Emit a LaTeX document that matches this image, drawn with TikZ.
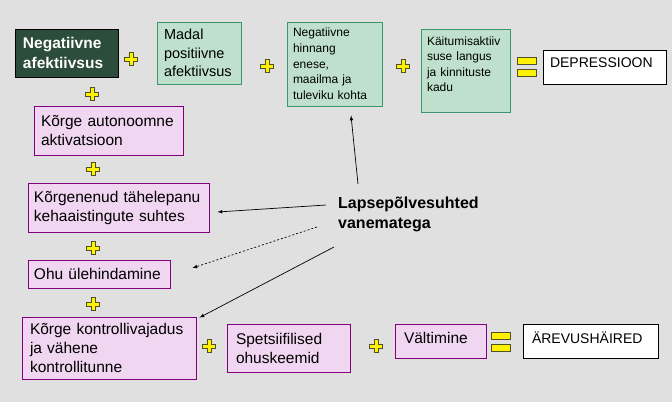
\documentclass[tikz,border=0pt]{standalone}
\usepackage{fontspec}
\setmainfont{Liberation Sans}
\usetikzlibrary{arrows,calc,positioning}
\definecolor{bg}{RGB}{224,224,224}
\definecolor{darkgreen}{RGB}{44,76,60}
\definecolor{lightgreen}{RGB}{192,224,206}
\definecolor{greenline}{RGB}{60,150,110}
\definecolor{pinkfill}{RGB}{240,214,240}
\definecolor{lilla}{RGB}{128,0,128}
\definecolor{plusline}{RGB}{80,80,40}

\begin{document}
\begin{tikzpicture}[x=1pt,y=-1pt]
\tikzset{box/.style={rectangle, align=left, inner ysep=0pt, line width=0.8pt}}
\tikzset{nodedark/.style={box, draw=black, fill=darkgreen, text=white, font=\bfseries\fontsize{15.5}{20}\selectfont}}
\tikzset{nodegreen/.style={box, draw=greenline, fill=lightgreen}}
\tikzset{nodepink/.style={box, draw=lilla, fill=pinkfill, font=\fontsize{15.5}{19}\selectfont}}
\tikzset{nodewhite/.style={box, draw=black, fill=white, font=\fontsize{14}{17}\selectfont}}
\tikzset{arr/.style={-latex, line width=0.7pt}}

\tikzset{pluss/.pic={\filldraw[fill=yellow, draw=plusline, line width=0.6pt]
    (-6.5,-2.2) -| (-2.2,-6.5) -| (2.2,-2.2) -| (6.5,2.2) -| (2.2,6.5)
    -| (-2.2,2.2) -| (-6.5,2.2) -- cycle;}}
\tikzset{vordub/.pic={\filldraw[fill=yellow, draw=plusline, line width=0.6pt]
    (-9.5,-9.5) rectangle (9.5,-2.5) (-9.5,2.5) rectangle (9.5,9.5);}}

\useasboundingbox (0,0) rectangle (672,402);
\fill[bg] (0,0) rectangle (672,402);

%% Depression
\node[nodedark, text width=87pt, inner xsep=8pt, minimum height=48pt] at (66.5,53) (d1) {Negatiivne\\afektiivsus};
\node[nodegreen, font=\fontsize{14.5}{18.5}\selectfont, text width=70pt, inner xsep=7pt, minimum height=62pt] at (199,53) (d2) {Madal\\positiivne\\afektiivsus};
\node[nodegreen, font=\fontsize{12}{15.7}\selectfont, text width=83pt, inner xsep=6pt, minimum height=84pt] at (334.5,64) (d3) {Negatiivne\\hinnang\\enese,\\maailma ja\\tuleviku kohta};
\node[nodegreen, font=\fontsize{12}{15.5}\selectfont, text width=77pt, inner xsep=6pt, minimum height=83pt, text height=16pt, text depth=67pt] at (465.5,70.5) (d4) {K\"aitumisaktiiv\\suse langus\\ja kinnituste\\kadu};
\node[nodewhite, text width=109pt, inner xsep=7pt, minimum height=34pt, text depth=8pt] at (604.5,67) (d5) {DEPRESSIOON};

\pic at (131,59) {pluss};
\pic at (267,66) {pluss};
\pic at (403,66) {pluss};
\pic at (526.5,66.5) {vordub};

%% Anxiety
\node[nodepink, text width=135pt, inner xsep=7pt, minimum height=49pt] at (108.5,130.5) (a1) {K\~orge autonoomne\\aktivatsioon};
\node[nodepink, text width=169pt, inner xsep=6pt, minimum height=49pt] at (118.5,207.5) (a2) {K\~orgenenud t\"ahelepanu\\kehaaistingute suhtes};
\node[nodepink, text width=130pt, inner xsep=6pt, minimum height=28pt] at (99,274) (a3) {Ohu \"ulehindamine};
\node[nodepink, text width=158pt, inner xsep=8pt, minimum height=62pt] at (109,348) (a4) {K\~orge kontrollivajadus\\ja v\"ahene\\kontrollitunne};
\node[nodepink, text width=105pt, inner xsep=9pt, minimum height=48pt] at (288.5,348) (a5) {Spetsiifilised\\ohuskeemid};
\node[nodepink, text width=73pt, inner xsep=9pt, minimum height=34pt, text depth=6pt] at (440.5,341) (a6) {V\"altimine};
\node[nodewhite, text width=117pt, inner xsep=9pt, minimum height=34pt, text depth=6pt] at (590.5,341) (a7) {\"AREVUSH\"AIRED};

\pic at (92,94) {pluss};
\pic at (93,169) {pluss};
\pic at (93,248) {pluss};
\pic at (93,304) {pluss};
\pic at (209,346) {pluss};
\pic at (376,346) {pluss};
\pic at (501,341.5) {vordub};

%% Childhood relations
\node[anchor=west, inner sep=0pt, align=left, font=\bfseries\fontsize{16}{20}\selectfont] at (338,214) (lp) {Lapsep\~olvesuhted\\vanematega};

\draw[arr] ($(lp.west)+(-12,-9)$) -- ($(a2.east)+(8,4.5)$);
\draw[arr, dash pattern=on 2pt off 2pt] ($(lp.west)+(-21,13)$) -- ($(a3.east)+(22,-6)$);
\draw[arr] ($(lp.west)+(-4,33)$) -- ($(a4.north east)+(3,1)$);
\draw[arr] ($(lp.west)+(20,-30)$) -- ($(d3.south)+(16.5,9)$);

\end{tikzpicture}
\end{document}
